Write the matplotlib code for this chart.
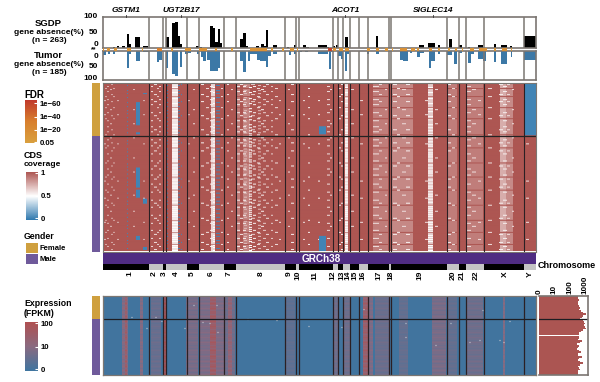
import numpy as np
import matplotlib
matplotlib.use("Agg")
import matplotlib.pyplot as plt
from matplotlib.colors import LinearSegmentedColormap, Normalize
from matplotlib.cm import ScalarMappable

plt.rcParams['font.family'] = ['Liberation Sans', 'DejaVu Sans']
plt.rcParams['font.weight'] = 'bold'

W, H = 600, 382

# chromosome layout, in genome units
chrom_names = ['1', '2', '3', '4', '5', '6', '7', '8', '9', '10', '11', '12', '13', '14', '15',
               '16', '17', '18', '19', '20', '21', '22', 'X', 'Y']
chrom_ends = [46, 60, 63, 83.5, 95.5, 121, 132.5, 181.5, 192.5, 196, 230, 235, 240, 247, 256,
              265, 286, 288, 344, 356, 363, 381, 421, 433]
chrom_label_pos = [27, 51, 61, 73, 89, 108, 126, 158, 186, 195, 212, 230, 239, 245, 252, 260,
                   276, 288, 317, 350, 359, 373, 402, 427]
genes = ['GSTM1', 'UGT2B17', 'ACOT1', 'SIGLEC14']
gene_pos = [23, 78, 242, 330]

# SGDP gene absence bars
sgdp_start = [9.7, 14.3, 19, 23.7, 26.3, 32.3, 39.7, 62.7, 69, 72, 75, 77.3, 83.7, 93, 96, 107.3, 109.7,
              112.3, 114.7, 117, 137, 140.3, 142.7, 153, 158, 160.7, 163, 169.7, 183.7, 191, 200.3, 203,
              215.3, 223.7, 229.7, 233, 242, 244.7, 273, 316.3, 325.3, 334.7, 346.3, 356.3, 365.3, 374.7,
              391, 397.7, 407, 421.3]
sgdp_end = [12.3, 16.3, 21.7, 26.3, 28, 37.3, 45.3, 65.7, 72, 75, 77.3, 79.3, 85, 95.7, 98.7, 109.7, 112.3,
            114.7, 117, 119, 140.3, 142.7, 145, 155.7, 160.7, 163, 165.3, 174.3, 185.7, 193, 203, 206.3,
            223.7, 225.7, 232.3, 235, 244.7, 246.3, 275.3, 321, 332, 337, 348.7, 358.7, 367.3, 380.3,
            393, 403.7, 409, 433]
sgdp_val = [3, 5, 5, 44, 13, 36, 5, 33, 80, 82, 38, 11, 3, 5, 2, 70, 65, 18, 62, 16, 28, 46, 5, 4, 10, 4,
            57, 9, 3, 8, 9, 3, 8, 3, 4, 8, 33, 3, 39, 8, 14, 7, 28, 7, 3, 9, 13, 9, 4, 38]

# Tumor gene absence bars
tumor_start = [0.3, 5, 9.7, 23.7, 26.3, 32.7, 39.7, 53.7, 56.3, 62.7, 69, 72, 77.3, 82, 85, 93.7, 98, 100.3,
               104.3, 107, 112, 114.7, 137, 140.3, 145, 147, 154.3, 157, 163, 165.3, 169.7, 186.3, 191,
               195.3, 202, 215.3, 226, 228.3, 235, 237.7, 242, 244.3, 263.7, 273, 297, 300.3, 307, 314.3,
               317, 325.7, 328, 334.7, 343.7, 351.3, 356.3, 365.3, 367.7, 375.3, 379.7, 391, 397.7, 407.7, 421]
tumor_end = [2.7, 7, 11.7, 26, 28.3, 37.3, 46.3, 56.3, 59, 65.3, 72, 74.7, 79.3, 85, 87.7, 96, 100.3, 103,
             107, 112, 114.7, 117.3, 140.3, 142.7, 147, 154.3, 157, 163, 165.3, 167.7, 174.3, 188.3, 193,
             198.7, 205.3, 225.3, 228.3, 231, 237.7, 239.7, 244.3, 246.3, 266.3, 275.7, 300.3, 304.7, 309,
             317, 321, 328, 332, 337, 348.7, 353.7, 358.7, 367.7, 371, 379.7, 383, 393, 404.3, 409.3, 433]
tumor_val = [13, 11, 11, 58, 9, 36, 5, 38, 30, 60, 78, 85, 55, 11, 7, 9, 22, 33, 30, 70, 68, 58, 33, 72, 35,
             9, 31, 33, 55, 16, 11, 13, 9, 5, 4, 9, 61, 5, 16, 28, 68, 9, 11, 11, 31, 33, 6, 20, 6, 60, 33,
             9, 14, 44, 6, 42, 11, 28, 33, 39, 44, 22, 30]

# significant regions shown in the strip between the two bar panels
fdr_start = [0, 4.3, 11.3, 23.7, 39.3, 53.7, 67.7, 82.3, 96, 112, 127.7, 147, 167.7, 179.3, 187, 193.7, 225.3,
             230.3, 236.3, 242, 263.7, 273, 282, 288.7, 297, 307.7, 314.3, 326.3, 335.3, 345.3, 352, 358.7,
             367, 376.3, 391, 398.7, 407.7]
fdr_end = [1, 7, 14.3, 27.7, 40.3, 58.7, 69.7, 87.7, 104.3, 114.3, 129.7, 163.7, 169.7, 181, 191, 195.3, 228.7,
           233, 239.7, 246.3, 267, 276.3, 285.3, 290.3, 304.3, 312, 316.3, 328.7, 337, 347, 354.3, 360.3,
           371, 383.7, 392.7, 404.3, 409]
fdr_val = [20, 12, 12, 14, 8, 32, 10, 14, 14, 12, 8, 14, 10, 8, 12, 8, 60, 14, 12, 14, 12, 15, 12, 8, 15, 14,
           10, 14, 10, 8, 12, 8, 12, 15, 10, 14, 8]

# CDS coverage heatmap: rows where a gene drops below full coverage
rows_a = [4, 9, 17, 22, 30, 38, 44, 49, 57, 63, 71, 78, 86, 92, 101, 109, 117, 124, 132, 140, 147, 155, 163]
rows_b = [2, 12, 19, 33, 47, 60, 68, 83, 96, 104, 120, 135, 151, 159, 166]
rows_c = [6, 14, 25, 36, 52, 65, 80, 94, 107, 122, 137, 149, 161]
rows_d = [1, 3, 8, 11, 15, 20, 24, 28, 31, 35, 39, 43, 46, 50, 54, 58, 61, 66, 69, 73, 76, 81, 84,
          87, 91, 95, 99, 102, 106, 110, 114, 118, 121, 126, 130, 134, 138, 142, 145, 150, 153, 157, 160, 165]
rows_e = [0, 5, 10, 16, 21, 26, 29, 34, 37, 42, 45, 48, 51, 53, 56, 59, 62, 64, 67, 70, 72, 74, 77,
          79, 82, 85, 88, 90, 93, 97, 100, 103, 105, 108, 111, 113, 116, 119, 123, 125, 127, 129,
          131, 133, 136, 139, 141, 144, 146, 148, 152, 154, 156, 158, 162, 164, 167]
rows_f = [7, 27, 41, 55, 75, 89, 112, 128, 143]
rows_g = [18, 32, 61, 98, 115, 139, 156]
row_sets = {'a': rows_a, 'b': rows_b, 'c': rows_c, 'd': rows_d, 'e': rows_e, 'f': rows_f, 'g': rows_g}

# pale columns
pale_start = [69, 108, 133, 140, 242, 270, 289, 325, 344, 364, 397, 403]
pale_end = [75, 112, 137, 147, 245, 285, 310, 330, 354, 380, 403, 410]
pale_val = [0.58, 0.62, 0.88, 0.86, 0.6, 0.88, 0.85, 0.66, 0.88, 0.88, 0.74, 0.84]

# columns of speckles: start, end, row set, coverage
spk_start = [1, 4, 7, 10, 14, 24, 30, 40, 48, 51, 54, 56, 64, 69, 75, 78, 85, 90, 98, 103, 107, 110, 113, 115,
             118, 124, 128, 133, 137, 140, 146, 150, 154, 158, 163, 168, 172, 176, 185, 188, 200, 205, 215, 224, 227,
             236, 238, 242, 248, 257, 270, 276, 282, 290, 294, 299, 303, 322, 325, 332, 345, 349, 364, 369, 375,
             385, 396, 400, 404, 409, 423, 141, 148, 155, 160, 2, 8]
spk_end = [3, 6, 9, 12, 16, 25, 32, 42, 50, 54, 56, 58, 65, 75, 77, 79, 87, 92, 101, 106, 110, 112, 115, 117,
           120, 126, 130, 137, 140, 143, 149, 153, 157, 161, 166, 170, 175, 178, 187, 191, 202, 207, 217, 227, 229,
           238, 240, 245, 251, 260, 276, 279, 284, 294, 297, 303, 307, 325, 330, 335, 348, 352, 368, 373, 378,
           389, 400, 404, 407, 411, 426, 144, 152, 158, 163, 4, 10]
spk_set = ['g', 'a', 'f', 'c', 'g', 'd', 'f', 'g', 'a', 'b', 'c', 'a', 'd', 'e', 'd', 'b', 'g', 'f', 'b', 'c', 'a', 'e', 'd', 'd',
           'c', 'b', 'f', 'a', 'b', 'a', 'e', 'a', 'c', 'f', 'b', 'a', 'c', 'g', 'f', 'b', 'g', 'c', 'g', 'a', 'f',
           'c', 'b', 'e', 'f', 'g', 'a', 'b', 'f', 'b', 'c', 'f', 'b', 'g', 'e', 'f', 'b', 'c', 'a', 'f', 'g',
           'c', 'b', 'a', 'b', 'f', 'g', 'd', 'b', 'd', 'a', 'c', 'b']
spk_val = [.7, .72, .7, .75, .72, .05, .7, .72, .6, .6, .65, .6, .05, .5, .05, .05, .7, .6, .55, .6, .55, .5, .05, .05,
           .6, .55, .6, .55, .55, .55, .5, .55, .6, .55, .6, .65, .6, .6, .6, .55, .6, .55, .55, .6, .6,
           .55, .55, .5, .6, .6, .6, .6, .6, .55, .55, .6, .55, .6, .5, .6, .55, .6, .6, .6, .6,
           .6, .55, .55, .6, .6, .6, .7, .65, .7, .65, .75, .75]

# solid low-coverage blocks: genome start/end, row start/end
blk_g0 = [33, 33, 33, 33, 40, 33, 40, 40, 216, 216, 421]
blk_g1 = [37, 37, 37, 37, 44, 37, 44, 44, 223, 223, 433]
blk_r0 = [20, 50, 85, 107, 116, 153, 164, 11, 44, 153, 0]
blk_r1 = [43, 52, 105, 115, 121, 157, 167, 12, 52, 168, 53]

# expression heatmap: columns with raised FPKM (log-scaled colour position)
expr_start = [19, 22, 37, 48, 60, 83.5, 97, 107, 121, 125, 182, 230, 240, 260, 265, 272, 296, 329, 345, 364, 400]
expr_end = [25, 24, 40, 58, 63, 95, 121, 113, 132, 129, 192, 235, 247, 265, 270, 286, 305, 343, 354, 380, 402]
expr_val = [.45, .7, .45, .28, .85, .38, .42, .75, .32, .6, .22, .32, .32, .7, .42, .3, .25, .38, .25, .32, .45]
expr_rows_a = [2, 5, 9, 14, 18, 23, 27, 33, 38, 44, 49, 52, 58, 63, 67, 72, 76]
expr_rows_b = [0, 7, 12, 20, 25, 30, 36, 41, 46, 54, 60, 65, 70, 74, 78]
expr_spot_g = [27, 42, 51, 57, 80, 89, 98, 105, 112, 113, 129, 143, 172, 204, 237, 259, 301, 301, 346, 331, 365, 375, 378, 395, 399, 405]
expr_spot_r = [20, 31, 20, 24, 31, 8, 25, 26, 8, 35, 22, 22, 23, 29, 30, 12, 26, 40, 26, 48, 45, 43, 13, 43, 45, 24]

# total expression per block of rows, FPKM
total_fpkm = [340, 360, 380, 370, 350, 360, 420, 480, 380, 520, 700, 1150, 800, 620, 500, 700, 900, 1000, 850, 950,
              1100, 700, 520, 420, 400, 380, 400, 340, 620, 480, 320, 430, 340, 300, 380, 520, 360, 330, 620, 430,
              350, 480, 720, 460, 350, 390, 500, 360, 330, 350]

gender_colors = ['#cfa03f', '#6f5a9b']
bar_black = '#000000'
bar_blue = '#3c78a6'
frame_gray = '#7b7672'
dark_line = '#2b2024'

cds_cmap = LinearSegmentedColormap.from_list('cds', ['#2e78ae', '#ffffff', '#ad5652'])
fdr_cmap = LinearSegmentedColormap.from_list('fdr', ['#d9a03f', '#d87f2d', '#c0392b'])
expr_cmap = LinearSegmentedColormap.from_list('expr', ['#3f75a0', '#8a6a80', '#b05050'])


def box(x0, y0, x1, y1):
    return fig.add_axes([x0 / W, 1 - y1 / H, (x1 - x0) / W, (y1 - y0) / H])


def label(x, y, s, **kw):
    kw.setdefault('ha', 'center')
    kw.setdefault('va', 'center')
    kw.setdefault('fontsize', 6)
    fig.text(x / W, 1 - y / H, s, **kw)


def clean(ax, color=frame_gray, lw=1.2):
    ax.set_xticks([])
    ax.set_yticks([])
    for s in ax.spines.values():
        s.set_color(color)
        s.set_linewidth(lw)


fig = plt.figure(figsize=(W / 100, H / 100), dpi=100)
X0, X1 = 103, 536

# bar panels
ax_top = box(X0, 17, X1, 47.5)
ax_top.bar(sgdp_start, sgdp_val, width=np.array(sgdp_end) - np.array(sgdp_start), align='edge', color=bar_black)
ax_top.set_ylim(0, 100)
ax_bot = box(X0, 51, X1, 80)
ax_bot.bar(tumor_start, tumor_val, width=np.array(tumor_end) - np.array(tumor_start), align='edge', color=bar_blue)
ax_bot.set_ylim(100, 0)
for ax in (ax_top, ax_bot):
    ax.set_xlim(0, 433)
    clean(ax)
    for e in chrom_ends[:-1]:
        ax.axvline(e, color=frame_gray, lw=1.1)

# FDR strip
ax_fdr = box(X0, 47.5, X1, 51)
norm_fdr = Normalize(0, 65)
ax_fdr.bar(fdr_start, 1, width=np.array(fdr_end) - np.array(fdr_start), align='edge',
           color=fdr_cmap(norm_fdr(fdr_val)))
ax_fdr.set_xlim(0, 433)
ax_fdr.set_ylim(0, 1)
ax_fdr.axis('off')

for y, s in zip([17, 32, 44], ['100', '50', '0']):
    label(98, y, s, ha='right', fontsize=6)
for y, s in zip([56, 66, 79], ['0', '50', '100']):
    label(98, y, s, ha='right', fontsize=6)
label(94, 50, '**', fontsize=5)

label(48, 23, 'SGDP', fontsize=6.8)
label(49, 33, 'gene absence(%)')
label(49, 41, '(n = 263)')
label(48, 55, 'Tumor', fontsize=6.8)
label(49, 65, 'gene absence(%)')
label(49, 73, '(n = 185)')

for g, p in zip(genes, gene_pos):
    label(X0 + p, 10, g, style='italic', fontsize=6)
    fig.add_artist(plt.Line2D([(X0 + p) / W] * 2, [1 - 15 / H, 1 - 16.5 / H], color='#333333', lw=0.6))

# CDS coverage heatmap
n_rows, n_cols = 168, 433
cov = np.ones((n_rows, n_cols))
for g0, g1, v in zip(pale_start, pale_end, pale_val):
    cov[:, int(g0):int(g1)] = v
    cov[rows_c, int(g0):int(g1)] = min(1, v + 0.25)
for g0, g1, k, v in zip(spk_start, spk_end, spk_set, spk_val):
    cov[row_sets[k], int(g0):int(g1)] = v
for g0, g1, r0, r1 in zip(blk_g0, blk_g1, blk_r0, blk_r1):
    cov[r0:r1, g0:g1] = 0.05

ax_cov = box(X0, 83, X1, 251.5)
ax_cov.imshow(cov, cmap=cds_cmap, vmin=0, vmax=1, aspect='auto', interpolation='bilinear',
              extent=[0, n_cols, n_rows, 0])
for e in chrom_ends[:-1]:
    ax_cov.axvline(e, color=dark_line, lw=0.8)
ax_cov.axhline(53, color='#222222', lw=0.9)
clean(ax_cov, lw=0.8)

# gender annotation
for y0, y1, y2, y3 in [(83, 136, 136, 251.5), (296, 319, 319, 375)]:
    a = box(92, y0, 100.5, y1)
    a.set_facecolor(gender_colors[0])
    clean(a, lw=0)
    a = box(92, y2, 100.5, y3)
    a.set_facecolor(gender_colors[1])
    clean(a, lw=0)

# GRCh38 and chromosome bands
ax_g = box(X0, 253, X1, 264)
ax_g.set_facecolor('#4f2c82')
clean(ax_g, lw=0)
label(321, 258.5, 'GRCh38', color='white', fontsize=7.2)

ax_chr = box(X0, 264, X1, 269.5)
starts = [0] + chrom_ends[:-1]
ax_chr.bar(starts, 1, width=np.array(chrom_ends) - np.array(starts), align='edge',
           color=['#000000' if i % 2 == 0 else '#c4c4c4' for i in range(24)])
ax_chr.set_xlim(0, 433)
ax_chr.set_ylim(0, 1)
clean(ax_chr, lw=0)
for name, p in zip(chrom_names, chrom_label_pos):
    label(X0 + p, 271, name, rotation=90, fontsize=6, va='top')
label(567, 266, 'Chromosome', fontsize=6.5)

# expression heatmap
ex_rows = 79
expr = np.zeros((ex_rows, n_cols)) + 0.02
for g0, g1, v in zip(expr_start, expr_end, expr_val):
    expr[:, int(g0):int(g1)] = v
    expr[expr_rows_a, int(g0):int(g1)] = v * 0.85
    expr[expr_rows_b, int(g0):int(g1)] = min(1, v * 1.15)
ax_ex = box(X0, 296, X1, 375)
ax_ex.imshow(expr, cmap=expr_cmap, vmin=0, vmax=1, aspect='auto', interpolation='bilinear',
             extent=[0, n_cols, ex_rows, 0])
for g, r in zip(expr_spot_g, expr_spot_r):
    ax_ex.plot([g + 0.5, g + 2], [r + 0.5, r + 0.5], color='#c9ccd2', lw=0.9, solid_capstyle='butt')
for e in chrom_ends[:-1]:
    ax_ex.axvline(e, color=dark_line, lw=0.9)
ax_ex.axhline(23, color='#1d1d22', lw=0.9)
clean(ax_ex, lw=0.9)

# total expression side panel
ax_side = box(539, 296, 588, 375)
rows = np.arange(len(total_fpkm))
ax_side.barh(rows, np.log10(np.array(total_fpkm) + 1), height=1, align='edge', color='#ab5552')
ax_side.set_xlim(0, 3.2)
ax_side.set_ylim(len(total_fpkm), 0)
ax_side.axhline(23 / 79 * len(total_fpkm), color='#1d1d22', lw=0.9)
clean(ax_side)
ax_side.spines['left'].set_visible(False)
for v, s in zip([0, 1, 2, 3], ['0', '10', '100', '1000']):
    label(539 + v * 15.33, 294, s, rotation=90, va='bottom', fontsize=5.8)


# colour legends
def colorbar(x0, y0, x1, y1, cmap, vmin, vmax, ticks, names):
    cax = box(x0, y0, x1, y1)
    sm = ScalarMappable(norm=Normalize(vmin, vmax), cmap=cmap)
    cb = fig.colorbar(sm, cax=cax)
    cb.outline.set_visible(False)
    cb.set_ticks(ticks)
    cb.set_ticklabels(names, fontsize=5.6)
    cax.tick_params(axis='y', length=2, width=0.8, color='white', direction='in', pad=2)
    return cb


label(24, 95, 'FDR', ha='left', fontsize=7)
colorbar(25, 100, 36.5, 143, fdr_cmap, 0, 65, [1.3, 20, 40, 60], ['0.05', '1e\u221220', '1e\u221240', '1e\u221260'])

label(24, 156, 'CDS', ha='left', fontsize=6.5)
label(24, 165, 'coverage', ha='left', fontsize=6)
colorbar(26, 172, 38, 220, cds_cmap, 0, 1, [0.04, 0.5, 0.98], ['0', '0.5', '1'])

label(24, 237, 'Gender', ha='left', fontsize=6.3)
for y0, y1, c, s, ty in [(243, 253, gender_colors[0], 'Female', 248.5),
                         (254, 264, gender_colors[1], 'Male', 259.5)]:
    a = box(26, y0, 37.5, y1)
    a.set_facecolor(c)
    clean(a, lw=0)
    label(39.5, ty, s, ha='left', fontsize=5.5)

label(24, 304, 'Expression', ha='left', fontsize=6.3)
label(24, 314, '(FPKM)', ha='left', fontsize=6.3)
colorbar(25, 322, 37.5, 371, expr_cmap, 0, 1, [0.04, 0.5, 0.97], ['0', '10', '100'])

fig.savefig('out.png', dpi=100)
